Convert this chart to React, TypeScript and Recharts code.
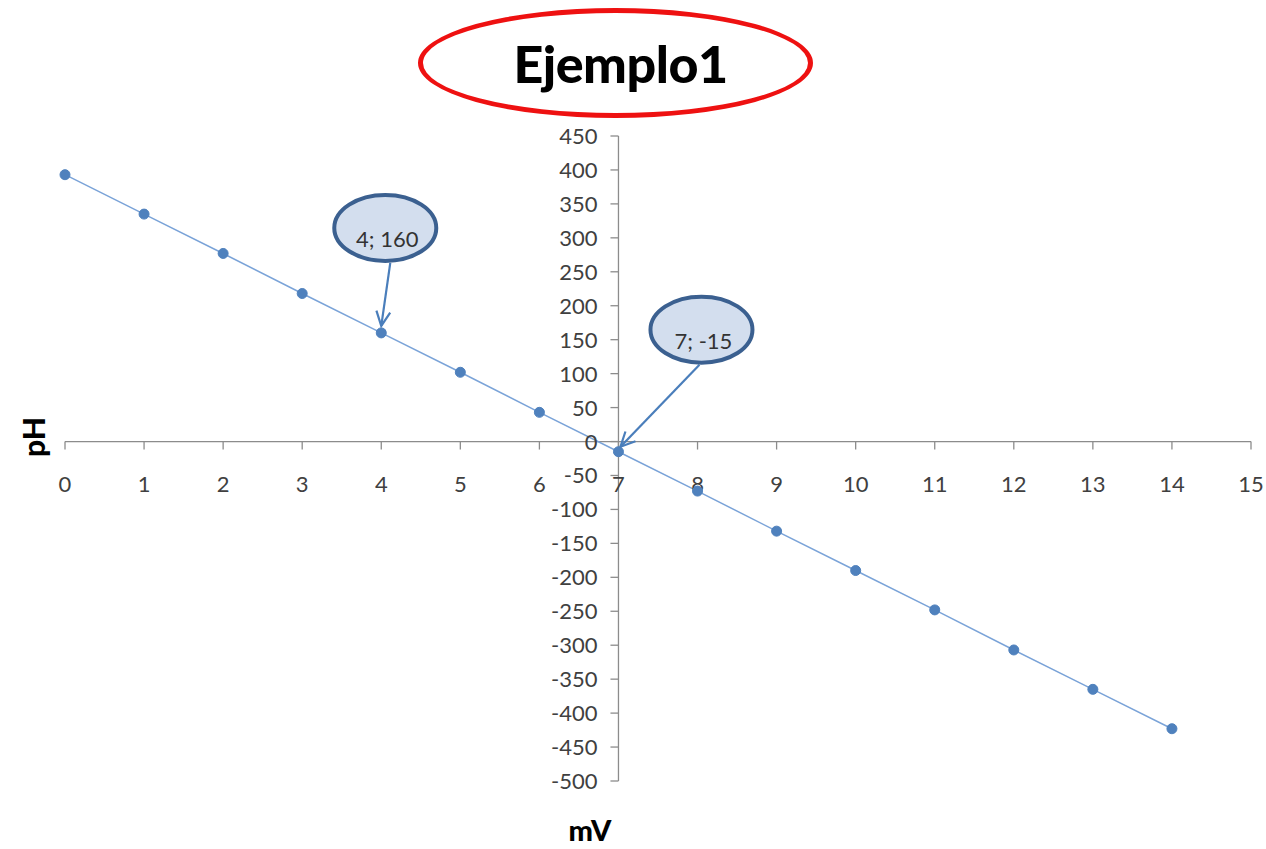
import React from 'react'
import {
  LineChart,
  Line,
  XAxis,
  YAxis,
  ReferenceLine,
  ReferenceDot,
} from 'recharts'

// pH (x) vs mV (y)
const PH = [0, 1, 2, 3, 4, 5, 6, 7, 8, 9, 10, 11, 12, 13, 14]
const MV = [393, 335, 277, 218, 160, 102, 43, -15, -73, -132, -190, -248, -307, -365, -423]

const X_TICKS = [0, 1, 2, 3, 4, 5, 6, 7, 8, 9, 10, 11, 12, 13, 14, 15]
const Y_TICKS = [
  -500, -450, -400, -350, -300, -250, -200, -150, -100, -50, 0,
  50, 100, 150, 200, 250, 300, 350, 400, 450,
]

const CALLOUTS = [
  { x: 4, y: 160, label: '4; 160', ex: 4, ey: -105, sx: 9, sy: -70, tx: 0, ty: -7 },
  { x: 7, y: -15, label: '7; -15', ex: 83, ey: -122, sx: 81, sy: -87, tx: 2, ty: -5 },
]

const AXIS_X = 7
const AXIS_COLOR = '#8c8c8c'
const FONT = 'Lato, "Open Sans", sans-serif'

const data = PH.map((p, i) => ({ ph: p, mv: MV[i] }))

const XTick = ({ cx, cy, value }: any) => (
  <g>
    <line x1={cx} y1={cy} x2={cx} y2={cy + 8} stroke={AXIS_COLOR} strokeWidth={1.3} />
    <text x={cx} y={cy + 50} textAnchor="middle" fontSize={22} fill="#404040" fontFamily={FONT}>
      {value}
    </text>
  </g>
)

const YTick = ({ cx, cy, value }: any) => (
  <g>
    <line x1={cx - 8} y1={cy} x2={cx} y2={cy} stroke={AXIS_COLOR} strokeWidth={1.3} />
    <text x={cx - 21} y={cy + 8} textAnchor="end" fontSize={22} fill="#404040" fontFamily={FONT}>
      {value}
    </text>
  </g>
)

const Callout = ({ cx, cy, c }: any) => {
  const x1 = cx + c.sx
  const y1 = cy + c.sy
  const x2 = cx + c.tx
  const y2 = cy + c.ty
  const ang = Math.atan2(y2 - y1, x2 - x1)
  const head = 16
  const spread = 0.45
  const hx1 = x2 - head * Math.cos(ang - spread)
  const hy1 = y2 - head * Math.sin(ang - spread)
  const hx2 = x2 - head * Math.cos(ang + spread)
  const hy2 = y2 - head * Math.sin(ang + spread)
  return (
    <g>
      <line x1={x1} y1={y1} x2={x2} y2={y2} stroke="#4a7ebb" strokeWidth={2.2} />
      <polyline
        points={`${hx1},${hy1} ${x2},${y2} ${hx2},${hy2}`}
        fill="none"
        stroke="#4a7ebb"
        strokeWidth={2.2}
      />
      <ellipse cx={cx + c.ex} cy={cy + c.ey} rx={51} ry={33} fill="#d3deee" stroke="#3b6090" strokeWidth={4} />
      <text
        x={cx + c.ex + 2}
        y={cy + c.ey + 19}
        textAnchor="middle"
        fontSize={22}
        fill="#333"
        fontFamily={FONT}
      >
        {c.label}
      </text>
    </g>
  )
}

export default function App() {
  return (
    <div style={{ position: 'absolute', left: 0, top: 0, width: 1266, height: 849, background: '#fff' }}>
      <div
        style={{
          position: 'absolute',
          left: 418,
          top: 8,
          width: 375,
          height: 100,
          paddingLeft: 10,
          border: '5px solid #ee1111',
          borderRadius: '50%',
          display: 'flex',
          alignItems: 'center',
          justifyContent: 'center',
          fontFamily: FONT,
          fontWeight: 900,
          fontSize: 52,
          color: '#000',
          letterSpacing: -0.5,
        }}
      >
        Ejemplo1
      </div>
      <div
        style={{
          position: 'absolute',
          left: 33,
          top: 437,
          transform: 'translate(-50%, -50%) rotate(-90deg)',
          fontFamily: FONT,
          fontWeight: 900,
          fontSize: 30,
        }}
      >
        pH
      </div>
      <div
        style={{
          position: 'absolute',
          left: 590,
          top: 830,
          transform: 'translate(-50%, -50%)',
          fontFamily: FONT,
          fontWeight: 900,
          fontSize: 29,
          lineHeight: '32px',
        }}
      >
        mV
      </div>
      <LineChart
        width={1266}
        height={849}
        data={data}
        margin={{ top: 136, right: 15, bottom: 68, left: 65 }}
      >
        <XAxis type="number" dataKey="ph" domain={[0, 15]} hide />
        <YAxis type="number" domain={[-500, 450]} hide />
        <ReferenceLine y={0} stroke={AXIS_COLOR} strokeWidth={1.3} />
        <ReferenceLine x={AXIS_X} stroke={AXIS_COLOR} strokeWidth={1.3} />
        {X_TICKS.map((t) => (
          <ReferenceDot
            key={'x' + t}
            x={t}
            y={0}
            r={0}
            ifOverflow="visible"
            shape={(p: any) => <XTick {...p} value={t} />}
          />
        ))}
        {Y_TICKS.map((t) => (
          <ReferenceDot
            key={'y' + t}
            x={AXIS_X}
            y={t}
            r={0}
            ifOverflow="visible"
            shape={(p: any) => <YTick {...p} value={t} />}
          />
        ))}
        <Line
          type="linear"
          dataKey="mv"
          stroke="#7aa3d8"
          strokeWidth={1.5}
          dot={{ r: 5, fill: '#4f81bd', stroke: '#4f81bd', strokeWidth: 1 }}
          isAnimationActive={false}
        />
        {CALLOUTS.map((c) => (
          <ReferenceDot
            key={c.label}
            x={c.x}
            y={c.y}
            r={0}
            ifOverflow="visible"
            shape={(p: any) => <Callout {...p} c={c} />}
          />
        ))}
      </LineChart>
    </div>
  )
}
